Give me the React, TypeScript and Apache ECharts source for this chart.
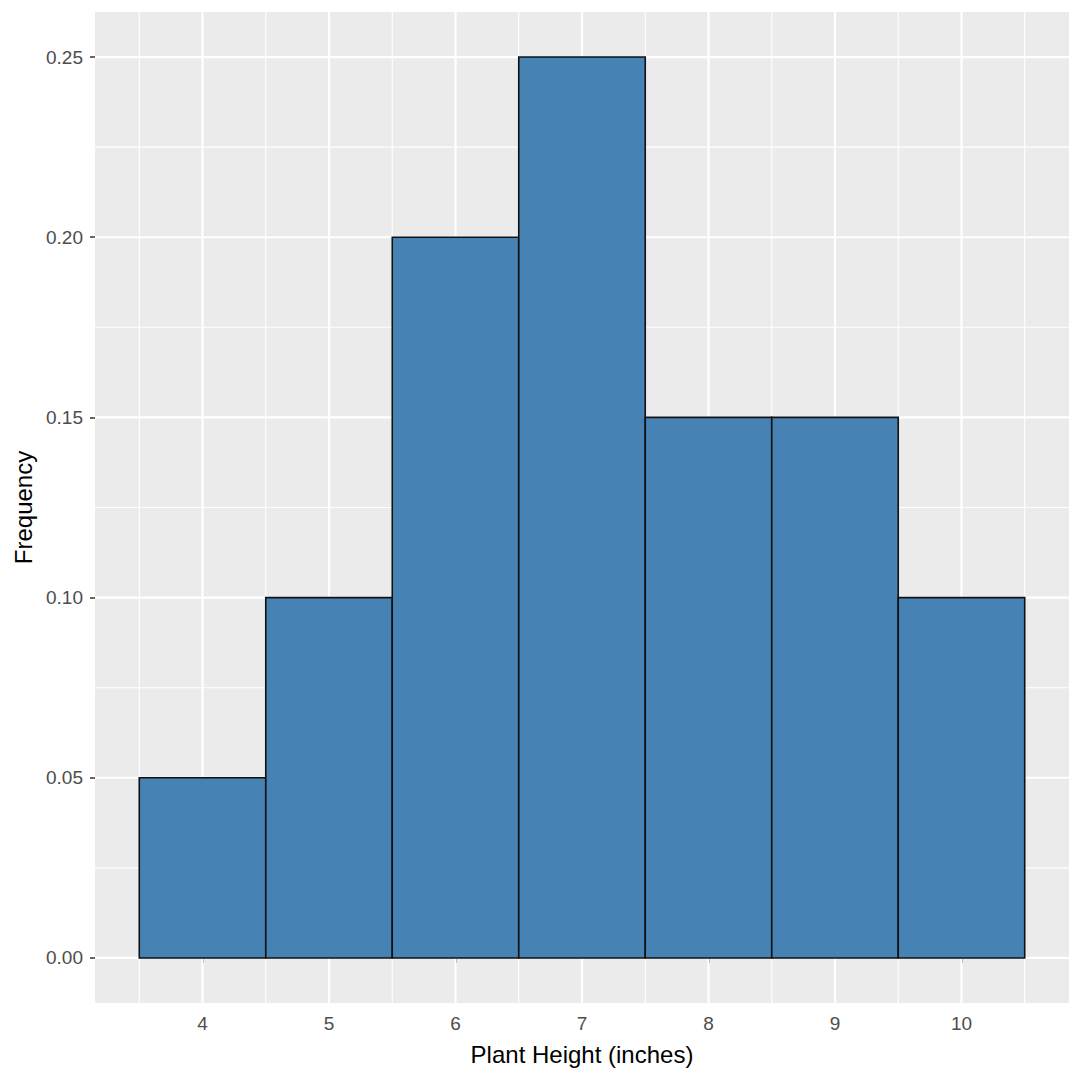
import React, { useEffect, useRef } from "react";
import * as echarts from "echarts";

const binStarts = [3.5, 4.5, 5.5, 6.5, 7.5, 8.5, 9.5];
const binEnds = [4.5, 5.5, 6.5, 7.5, 8.5, 9.5, 10.5];
const frequencies = [0.05, 0.1, 0.2, 0.25, 0.15, 0.15, 0.1];

const xTicks = [4, 5, 6, 7, 8, 9, 10];
const xMinor = [3.5, 4.5, 5.5, 6.5, 7.5, 8.5, 9.5, 10.5];
const yTicks = [0, 0.05, 0.1, 0.15, 0.2, 0.25];
const yMinor = [0.025, 0.075, 0.125, 0.175, 0.225];

const X_MIN = 3.15;
const X_MAX = 10.85;
const Y_MIN = -0.0125;
const Y_MAX = 0.2625;

const FONT = '"Liberation Sans", Arial, sans-serif';

export default function App() {
  const chartRef = useRef<HTMLDivElement>(null);

  useEffect(() => {
    const chart = echarts.init(chartRef.current!, null, { renderer: "svg" });

    const bars = binStarts.map((s, i) => [s, binEnds[i], frequencies[i]]);
    const vLines = [
      ...xMinor.map((v) => [v, 0]),
      ...xTicks.map((v) => [v, 1]),
    ];
    const hLines = [
      ...yMinor.map((v) => [v, 0]),
      ...yTicks.map((v) => [v, 1]),
    ];

    chart.setOption({
      animation: false,
      textStyle: { fontFamily: FONT },
      grid: {
        left: 95,
        right: 10,
        top: 12,
        bottom: 74,
        show: true,
        backgroundColor: "#EBEBEB",
        borderWidth: 0,
      },
      xAxis: {
        type: "value",
        min: X_MIN,
        max: X_MAX,
        name: "Plant Height (inches)",
        nameLocation: "middle",
        nameGap: 39,
        nameTextStyle: { fontSize: 24, color: "#000", fontFamily: FONT },
        axisLine: { show: false },
        splitLine: { show: false },
        axisTick: {
          show: true,
          customValues: xTicks,
          length: 5,
          lineStyle: { color: "#333333", width: 1.5 },
        },
        axisLabel: {
          customValues: xTicks,
          margin: 11,
          fontSize: 19,
          color: "#4D4D4D",
          fontFamily: FONT,
        },
      },
      yAxis: {
        type: "value",
        min: Y_MIN,
        max: Y_MAX,
        name: "Frequency",
        nameLocation: "middle",
        nameRotate: 90,
        nameGap: 60,
        nameTextStyle: { fontSize: 24, color: "#000", fontFamily: FONT },
        axisLine: { show: false },
        splitLine: { show: false },
        axisTick: {
          show: true,
          customValues: yTicks,
          length: 5,
          lineStyle: { color: "#333333", width: 1.5 },
        },
        axisLabel: {
          customValues: yTicks,
          margin: 12,
          fontSize: 19,
          color: "#4D4D4D",
          fontFamily: FONT,
          formatter: (v: number) => v.toFixed(2),
        },
      },
      series: [
        {
          type: "custom",
          z: 1,
          silent: true,
          data: vLines,
          renderItem: (params: any, api: any) => {
            const top = api.coord([api.value(0), Y_MAX]);
            const bottom = api.coord([api.value(0), Y_MIN]);
            return {
              type: "line",
              shape: { x1: top[0], y1: top[1], x2: bottom[0], y2: bottom[1] },
              style: { stroke: "#FFFFFF", lineWidth: api.value(1) ? 2.2 : 1.1 },
            };
          },
        },
        {
          type: "custom",
          z: 1,
          silent: true,
          data: hLines,
          renderItem: (params: any, api: any) => {
            const left = api.coord([X_MIN, api.value(0)]);
            const right = api.coord([X_MAX, api.value(0)]);
            return {
              type: "line",
              shape: { x1: left[0], y1: left[1], x2: right[0], y2: right[1] },
              style: { stroke: "#FFFFFF", lineWidth: api.value(1) ? 2.2 : 1.1 },
            };
          },
        },
        {
          type: "custom",
          z: 5,
          data: bars,
          renderItem: (params: any, api: any) => {
            const p0 = api.coord([api.value(0), 0]);
            const p1 = api.coord([api.value(1), api.value(2)]);
            return {
              type: "rect",
              shape: {
                x: p0[0],
                y: p1[1],
                width: p1[0] - p0[0],
                height: p0[1] - p1[1],
              },
              style: { fill: "#4682B4", stroke: "#111111", lineWidth: 1.6 },
            };
          },
        },
      ],
    });

    return () => {
      chart.dispose();
    };
  }, []);

  return (
    <div
      ref={chartRef}
      style={{
        position: "absolute",
        left: 0,
        top: 0,
        width: "1079px",
        height: "1077px",
        background: "#fff",
      }}
    />
  );
}
